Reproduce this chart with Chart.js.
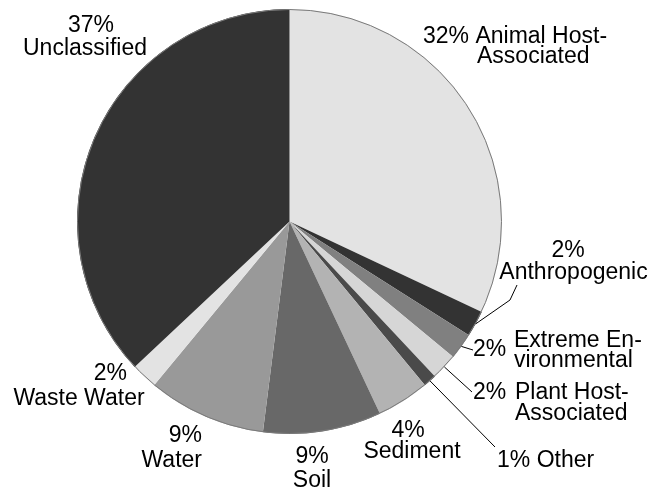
<!DOCTYPE html>
<html>
<head>
<meta charset="utf-8">
<title>Sample categories</title>
<script src="https://cdn.jsdelivr.net/npm/chart.js@4/dist/chart.umd.min.js"></script>
<style>
  html, body { margin: 0; padding: 0; background: #fff; }
  canvas { display: block; }
</style>
</head>
<body>
<canvas id="pie" width="654" height="491"></canvas>
<script>
// data, clockwise from 12 o'clock
const categories = [
  "Animal Host-Associated", "Anthropogenic", "Extreme Environmental",
  "Plant Host-Associated", "Other", "Sediment", "Soil", "Water",
  "Waste Water", "Unclassified"
];
const values = [32, 2, 2, 2, 1, 4, 9, 9, 2, 37];
const sliceColors = [
  "#e3e3e3", "#333333", "#808080", "#d6d6d6", "#4a4a4a",
  "#b3b3b3", "#686868", "#999999", "#e3e3e3", "#333333"
];

// label layout, offsets from pie centre in px (x, baseline, align)
// "%" in text is replaced with the slice value
const labelLayout = [
  { lines: [["% Animal Host-", 133.5, -178.5, "left"], ["Associated", 187.5, -158.5, "left"]] },
  { lines: [["%", 278.5, 35.5, "center"], ["Anthropogenic", 284, 57.5, "center"]],
    leader: [[220.5, 78.5], [227.5, 63.5]] },
  { lines: [["%", 183.5, 134.5, "left"], ["Extreme En-", 224.5, 125.5, "left"], ["vironmental", 224.5, 145.5, "left"]],
    leader: [[183.5, 128.5]] },
  { lines: [["%", 183.5, 177.5, "left"], ["Plant Host-", 225.5, 177.5, "left"], ["Associated", 225.5, 198.5, "left"]],
    leader: [[182.5, 170.5]] },
  { lines: [["% Other", 207.5, 245.5, "left"]],
    leader: [[205.5, 225.5]] },
  { lines: [["%", 118.5, 215.5, "center"], ["Sediment", 122.5, 236.5, "center"]] },
  { lines: [["%", 22.5, 241.5, "center"], ["Soil", 22.5, 265.5, "center"]] },
  { lines: [["%", -87.5, 220.5, "right"], ["Water", -87.5, 245.5, "right"]] },
  { lines: [["%", -162.5, 158.5, "right"], ["Waste Water", -210.5, 183.5, "center"]] },
  { lines: [["%", -198.5, -189.5, "center"], ["Unclassified", -204.5, -166.5, "center"]] }
];

const pieLabels = {
  id: "pieLabels",
  afterDraw(chart) {
    const ctx = chart.ctx;
    const arcs = chart.getDatasetMeta(0).data;
    const cx = arcs[0].x, cy = arcs[0].y;
    ctx.save();

    // thin outline round the pie
    const r0 = arcs[0].outerRadius;
    ctx.strokeStyle = "#7a7a7a";
    ctx.lineWidth = 1;
    ctx.beginPath();
    ctx.arc(cx, cy, r0 - 0.5, 0, Math.PI * 2);
    ctx.stroke();

    ctx.font = '23px "Liberation Sans", Arial, sans-serif';
    ctx.fillStyle = "#000";
    ctx.textBaseline = "alphabetic";
    labelLayout.forEach((lay, i) => {
      const arc = arcs[i];
      if (lay.leader) {
        const mid = (arc.startAngle + arc.endAngle) / 2;
        ctx.strokeStyle = "#000";
        ctx.beginPath();
        ctx.moveTo(cx + Math.cos(mid) * arc.outerRadius, cy + Math.sin(mid) * arc.outerRadius);
        lay.leader.forEach(p => ctx.lineTo(cx + p[0], cy + p[1]));
        ctx.stroke();
      }
      lay.lines.forEach(([txt, dx, dy, align]) => {
        ctx.textAlign = align;
        ctx.fillText(txt.replace("%", values[i] + "%"), cx + dx, cy + dy);
      });
    });
    ctx.restore();
  }
};

new Chart(document.getElementById("pie"), {
  type: "pie",
  data: {
    labels: categories,
    datasets: [{
      data: values,
      backgroundColor: sliceColors,
      borderWidth: 0
    }]
  },
  options: {
    responsive: false,
    animation: false,
    layout: { padding: { left: 77, right: 152, top: 9, bottom: 57 } },
    plugins: {
      legend: { display: false },
      tooltip: { enabled: false }
    }
  },
  plugins: [pieLabels]
});
</script>
</body>
</html>
